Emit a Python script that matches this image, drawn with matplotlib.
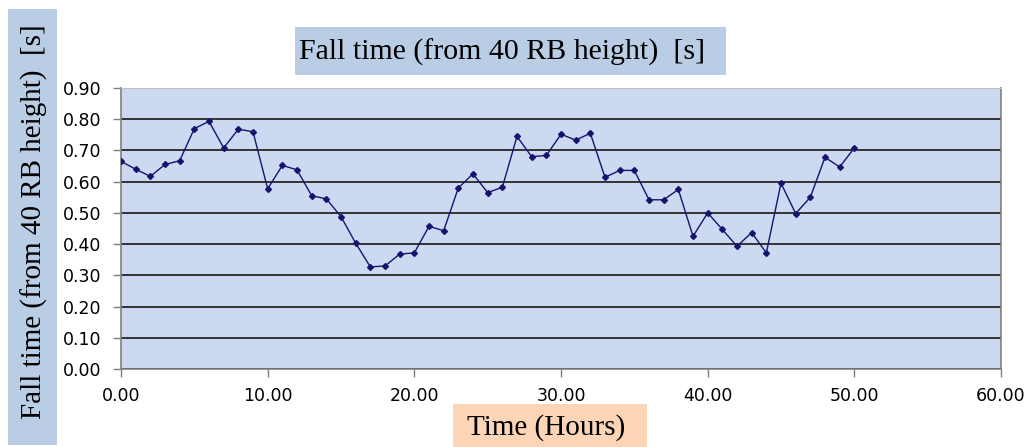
import matplotlib
matplotlib.use("Agg")
import matplotlib.pyplot as plt
import matplotlib.patches as patches

# hours 0..50, one reading per hour
hours = list(range(0, 51))
fall_time = [
    0.665, 0.640, 0.617, 0.655, 0.667, 0.770, 0.793, 0.708, 0.768, 0.760,
    0.577, 0.652, 0.638, 0.555, 0.545, 0.488, 0.403, 0.327, 0.330, 0.368,
    0.372, 0.457, 0.443, 0.580, 0.625, 0.565, 0.582, 0.745, 0.680, 0.684,
    0.752, 0.733, 0.755, 0.614, 0.636, 0.636, 0.542, 0.542, 0.575, 0.425,
    0.500, 0.447, 0.393, 0.437, 0.372, 0.595, 0.498, 0.550, 0.678, 0.647,
    0.708,
]
x_ticks = [0, 10, 20, 30, 40, 50, 60]
y_ticks = [0.0, 0.1, 0.2, 0.3, 0.4, 0.5, 0.6, 0.7, 0.8, 0.9]

title_text = "Fall time (from 40 RB height)  [s]"
ylabel_text = "Fall time (from 40 RB height)  [s]"
xlabel_text = "Time (Hours)"

W, H = 1031, 447


def fx(px):
    return px / W


def fy(py):
    return 1 - py / H


fig = plt.figure(figsize=(W / 100, H / 100), dpi=100)
ax = fig.add_axes([fx(121), fy(369), (1001 - 121) / W, (369 - 88) / H])
ax.set_facecolor("#cdd9f1")

ax.plot(hours, fall_time, color="#14146e", lw=1.0, marker="D", ms=3,
        mfc="#14146e", mec="#14146e", zorder=3)

ax.set_xlim(0, 60)
ax.set_ylim(0, 0.9)
ax.set_xticks(x_ticks)
ax.set_yticks(y_ticks)
ax.set_xticklabels([f"{v:.2f}" for v in x_ticks])
ax.set_yticklabels([f"{v:.2f}" for v in y_ticks])
ax.tick_params(axis="both", direction="out", length=6, width=1, color="#808080",
               labelsize=12.5, labelcolor="black")
ax.tick_params(axis="y", pad=8)
ax.tick_params(axis="x", pad=7)
for lab in ax.get_xticklabels() + ax.get_yticklabels():
    lab.set_family("DejaVu Sans")

ax.yaxis.grid(True, color="#333333", lw=1.4)
ax.set_axisbelow(True)
for side in ["left", "bottom", "right"]:
    ax.spines[side].set_color("#808080")
    ax.spines[side].set_linewidth(1.2)
ax.spines["top"].set_color("#c0c0c0")

serif = ["Liberation Serif", "DejaVu Serif"]

# title box
fig.patches.append(patches.Rectangle((fx(295), fy(75)), (726 - 295) / W, 48 / H,
                                     transform=fig.transFigure, facecolor="#b9cde5",
                                     edgecolor="none"))
fig.text(fx(502), fy(52), title_text, family=serif, fontsize=21.5,
         ha="center", va="center")

# y label box
fig.patches.append(patches.Rectangle((fx(8), fy(445)), 49 / W, 436 / H,
                                     transform=fig.transFigure, facecolor="#b9cde5",
                                     edgecolor="none"))
fig.text(fx(34), fy(222), ylabel_text, family=serif, fontsize=21,
         rotation=90, ha="center", va="center")

# x label box
fig.patches.append(patches.Rectangle((fx(453), fy(447)), 194 / W, 43 / H,
                                     transform=fig.transFigure, facecolor="#fbd5b5",
                                     edgecolor="none"))
fig.text(fx(546), fy(428), xlabel_text, family=serif, fontsize=21,
         ha="center", va="center")

fig.savefig("out.png", dpi=100)
